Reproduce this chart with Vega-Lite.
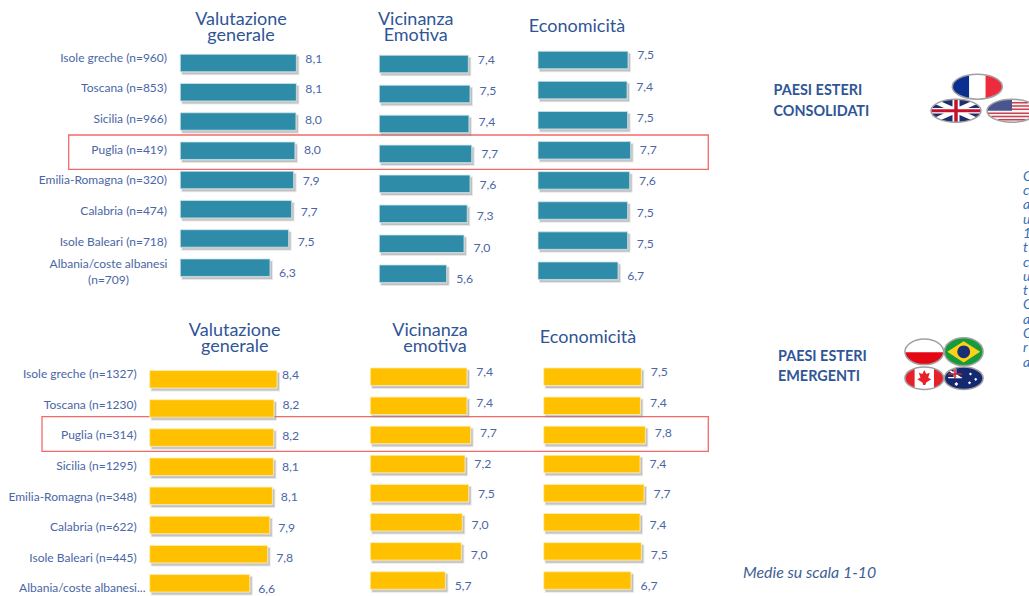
{
"$schema":"https://vega.github.io/schema/vega-lite/v6.json",
"width":1029,"height":596,"padding":0,
"autosize":{"type":"fit","contains":"padding"},
"background":"white",
"config":{"view":{"stroke":null},"text":{"font":"Lato"}},
"resolve":{"scale":{"x":"independent","y":"independent","shape":"independent","fill":"independent"}},
"datasets":{
"scores":[
{"p":"c1","rank":1,"score":8.1,"label":"8,1"},{"p":"c1","rank":2,"score":8.1,"label":"8,1"},{"p":"c1","rank":3,"score":8.07,"label":"8,0"},{"p":"c1","rank":4,"score":8.0,"label":"8,0"},{"p":"c1","rank":5,"score":7.91,"label":"7,9"},{"p":"c1","rank":6,"score":7.77,"label":"7,7"},{"p":"c1","rank":7,"score":7.56,"label":"7,5"},{"p":"c1","rank":8,"score":6.26,"label":"6,3"},
{"p":"c2","rank":1,"score":7.4,"label":"7,4"},{"p":"c2","rank":2,"score":7.54,"label":"7,5"},{"p":"c2","rank":3,"score":7.45,"label":"7,4"},{"p":"c2","rank":4,"score":7.68,"label":"7,7"},{"p":"c2","rank":5,"score":7.54,"label":"7,6"},{"p":"c2","rank":6,"score":7.31,"label":"7,3"},{"p":"c2","rank":7,"score":7.04,"label":"7,0"},{"p":"c2","rank":8,"score":5.6,"label":"5,6"},
{"p":"c3","rank":1,"score":7.5,"label":"7,5"},{"p":"c3","rank":2,"score":7.42,"label":"7,4"},{"p":"c3","rank":3,"score":7.47,"label":"7,5"},{"p":"c3","rank":4,"score":7.72,"label":"7,7"},{"p":"c3","rank":5,"score":7.64,"label":"7,6"},{"p":"c3","rank":6,"score":7.47,"label":"7,5"},{"p":"c3","rank":7,"score":7.47,"label":"7,5"},{"p":"c3","rank":8,"score":6.67,"label":"6,7"},
{"p":"e1","rank":1,"score":8.4,"label":"8,4"},{"p":"e1","rank":2,"score":8.2,"label":"8,2"},{"p":"e1","rank":3,"score":8.18,"label":"8,2"},{"p":"e1","rank":4,"score":8.16,"label":"8,1"},{"p":"e1","rank":5,"score":8.09,"label":"8,1"},{"p":"e1","rank":6,"score":7.92,"label":"7,9"},{"p":"e1","rank":7,"score":7.78,"label":"7,8"},{"p":"e1","rank":8,"score":6.6,"label":"6,6"},
{"p":"e2","rank":1,"score":7.38,"label":"7,4"},{"p":"e2","rank":2,"score":7.38,"label":"7,4"},{"p":"e2","rank":3,"score":7.66,"label":"7,7"},{"p":"e2","rank":4,"score":7.23,"label":"7,2"},{"p":"e2","rank":5,"score":7.51,"label":"7,5"},{"p":"e2","rank":6,"score":7.02,"label":"7,0"},{"p":"e2","rank":7,"score":6.95,"label":"7,0"},{"p":"e2","rank":8,"score":5.73,"label":"5,7"},
{"p":"e3","rank":1,"score":7.51,"label":"7,5"},{"p":"e3","rank":2,"score":7.44,"label":"7,4"},{"p":"e3","rank":3,"score":7.82,"label":"7,8"},{"p":"e3","rank":4,"score":7.41,"label":"7,4"},{"p":"e3","rank":5,"score":7.72,"label":"7,7"},{"p":"e3","rank":6,"score":7.41,"label":"7,4"},{"p":"e3","rank":7,"score":7.51,"label":"7,5"},{"p":"e3","rank":8,"score":6.72,"label":"6,7"}
],
"places":[
{"b":"c","rank":1,"label":"Isole greche (n=960)"},{"b":"c","rank":2,"label":"Toscana (n=853)"},{"b":"c","rank":3,"label":"Sicilia (n=966)"},{"b":"c","rank":4,"label":"Puglia (n=419)"},{"b":"c","rank":5,"label":"Emilia-Romagna (n=320)"},{"b":"c","rank":6,"label":"Calabria (n=474)"},{"b":"c","rank":7,"label":"Isole Baleari (n=718)"},
{"b":"e","rank":1,"label":"Isole greche (n=1327)"},{"b":"e","rank":2,"label":"Toscana (n=1230)"},{"b":"e","rank":3,"label":"Puglia (n=314)"},{"b":"e","rank":4,"label":"Sicilia (n=1295)"},{"b":"e","rank":5,"label":"Emilia-Romagna (n=348)"},{"b":"e","rank":6,"label":"Calabria (n=622)"},{"b":"e","rank":7,"label":"Isole Baleari (n=445)"},{"b":"e8","rank":8,"label":"Albania/coste albanesi..."}
],
"notes":[
{"note":"alb","line":1,"text":"Albania/coste albanesi"},{"note":"alb","line":2,"text":"(n=709)"},
{"note":"h1","line":1,"text":"Valutazione"},{"note":"h1","line":2,"text":"generale"},
{"note":"h2","line":1,"text":"Vicinanza"},{"note":"h2","line":2,"text":"Emotiva"},
{"note":"h3","line":1,"text":"Economicità"},
{"note":"h4","line":1,"text":"Valutazione"},{"note":"h4","line":2,"text":"generale"},
{"note":"h5","line":1,"text":"Vicinanza"},
{"note":"h5b","line":1,"text":"emotiva"},
{"note":"h6","line":1,"text":"Economicità"},
{"note":"sc","line":1,"text":"PAESI ESTERI"},{"note":"sc","line":2,"text":"CONSOLIDATI"},
{"note":"se","line":1,"text":"PAESI ESTERI"},{"note":"se","line":2,"text":"EMERGENTI"},
{"note":"m","line":1,"text":"Medie su scala 1-10"},
{"note":"cut","line":1,"text":"C"},{"note":"cut","line":2,"text":"c"},{"note":"cut","line":3,"text":"a"},{"note":"cut","line":4,"text":"u"},{"note":"cut","line":5,"text":"1"},{"note":"cut","line":6,"text":"t"},{"note":"cut","line":7,"text":"c"},{"note":"cut","line":8,"text":"u"},{"note":"cut","line":9,"text":"t"},{"note":"cut","line":10,"text":"C"},{"note":"cut","line":11,"text":"a"},{"note":"cut","line":12,"text":"C"},{"note":"cut","line":13,"text":"r"},{"note":"cut","line":14,"text":"a"}
],
"boxes":[{"b":"c","x0":0,"x1":1,"y0":0,"y1":1},{"b":"e","x0":0,"x1":1,"y0":0,"y1":1}],
"flags":[
{"g":"fr","part":"frBase","col":0,"row":0},{"g":"fr","part":"frBlue","col":0,"row":0},{"g":"fr","part":"frRed","col":0,"row":0},{"g":"fr","part":"frRing","col":0,"row":0},
{"g":"uk","part":"ukBase","col":0,"row":0},{"g":"uk","part":"ukWhite","col":0,"row":0},{"g":"uk","part":"ukRed","col":0,"row":0},{"g":"uk","part":"ukRing","col":0,"row":0},
{"g":"uk","part":"usBase","col":1,"row":0},{"g":"uk","part":"usCanton","col":1,"row":0},{"g":"uk","part":"usRed","col":1,"row":0},{"g":"uk","part":"usRing","col":1,"row":0},
{"g":"em","part":"plBase","col":0,"row":0},{"g":"em","part":"plRed","col":0,"row":0},{"g":"em","part":"plRing","col":0,"row":0},
{"g":"em","part":"brBase","col":1,"row":0},{"g":"em","part":"brDiamond","col":1,"row":0},{"g":"em","part":"brGlobe","col":1,"row":0},{"g":"em","part":"brRing","col":1,"row":0},
{"g":"em","part":"caBase","col":0,"row":1},{"g":"em","part":"caRed","col":0,"row":1},{"g":"em","part":"caRing","col":0,"row":1},
{"g":"em","part":"auBase","col":1,"row":1},{"g":"em","part":"auWhite","col":1,"row":1},{"g":"em","part":"auRed","col":1,"row":1},{"g":"em","part":"auRing","col":1,"row":1}
]
},
"layer":[
{"data":{"name":"boxes"},"transform":[{"filter":"datum.b=='c'"}],"mark":{"type":"rect","fill":"transparent","stroke":"#f4686a","strokeWidth":1.3},"encoding":{"x":{"field":"x0","type":"quantitative","axis":null,"scale":{"domain":[0,1],"range":[68.7,708.3]}},"x2":{"field":"x1"},"y":{"field":"y0","type":"quantitative","axis":null,"scale":{"domain":[0,1],"range":[135,169.3]}},"y2":{"field":"y1"}}},
{"data":{"name":"boxes"},"transform":[{"filter":"datum.b=='e'"}],"mark":{"type":"rect","fill":"transparent","stroke":"#f4686a","strokeWidth":1.3},"encoding":{"x":{"field":"x0","type":"quantitative","axis":null,"scale":{"domain":[0,1],"range":[42,708.3]}},"x2":{"field":"x1"},"y":{"field":"y0","type":"quantitative","axis":null,"scale":{"domain":[0,1],"range":[416.7,451.3]}},"y2":{"field":"y1"}}},

{"data":{"name":"scores"},"transform":[{"filter":"datum.p=='c1'"}],"mark":{"type":"bar","orient":"horizontal","size":17.5,"fill":"#8c8c8c","fillOpacity":0.45,"stroke":"#8c8c8c","strokeOpacity":0.2,"strokeWidth":2,"xOffset":2,"yOffset":2.5},"encoding":{"x":{"field":"score","type":"quantitative","axis":null,"scale":{"domain":[0,10],"range":[180.3,323.6]}},"y":{"field":"rank","type":"quantitative","axis":null,"scale":{"domain":[1,8],"range":[58,272.7]}}}},
{"data":{"name":"scores"},"transform":[{"filter":"datum.p=='c1'"}],"mark":{"type":"bar","orient":"horizontal","size":17.5,"fill":"#2e8ca8","stroke":"#cfe4ea","strokeWidth":0.8},"encoding":{"x":{"field":"score","type":"quantitative","axis":null,"scale":{"domain":[0,10],"range":[180.3,323.6]}},"y":{"field":"rank","type":"quantitative","axis":null,"scale":{"domain":[1,8],"range":[58,272.7]}}}},
{"data":{"name":"scores"},"transform":[{"filter":"datum.p=='c1'"}],"mark":{"type":"text","align":"left","dx":9,"fontSize":12.2,"fill":"#4a66a6"},"encoding":{"text":{"field":"label"},"x":{"field":"score","type":"quantitative","axis":null,"scale":{"domain":[0,10],"range":[180.3,323.6]}},"y":{"field":"rank","type":"quantitative","axis":null,"scale":{"domain":[1,8],"range":[58.5,273]}}}},

{"data":{"name":"scores"},"transform":[{"filter":"datum.p=='c2'"}],"mark":{"type":"bar","orient":"horizontal","size":17.5,"fill":"#8c8c8c","fillOpacity":0.45,"stroke":"#8c8c8c","strokeOpacity":0.2,"strokeWidth":2,"xOffset":2,"yOffset":2.5},"encoding":{"x":{"field":"score","type":"quantitative","axis":null,"scale":{"domain":[0,10],"range":[379.3,499.6]}},"y":{"field":"rank","type":"quantitative","axis":null,"scale":{"domain":[1,8],"range":[59,278.7]}}}},
{"data":{"name":"scores"},"transform":[{"filter":"datum.p=='c2'"}],"mark":{"type":"bar","orient":"horizontal","size":17.5,"fill":"#2e8ca8","stroke":"#cfe4ea","strokeWidth":0.8},"encoding":{"x":{"field":"score","type":"quantitative","axis":null,"scale":{"domain":[0,10],"range":[379.3,499.6]}},"y":{"field":"rank","type":"quantitative","axis":null,"scale":{"domain":[1,8],"range":[59,278.7]}}}},
{"data":{"name":"scores"},"transform":[{"filter":"datum.p=='c2'"}],"mark":{"type":"text","align":"left","dx":9.5,"fontSize":12.2,"fill":"#4a66a6"},"encoding":{"text":{"field":"label"},"x":{"field":"score","type":"quantitative","axis":null,"scale":{"domain":[0,10],"range":[379.3,499.6]}},"y":{"field":"rank","type":"quantitative","axis":null,"scale":{"domain":[1,8],"range":[59.5,279]}}}},

{"data":{"name":"scores"},"transform":[{"filter":"datum.p=='c3'"}],"mark":{"type":"bar","orient":"horizontal","size":17.5,"fill":"#8c8c8c","fillOpacity":0.45,"stroke":"#8c8c8c","strokeOpacity":0.2,"strokeWidth":2,"xOffset":2,"yOffset":2.5},"encoding":{"x":{"field":"score","type":"quantitative","axis":null,"scale":{"domain":[0,10],"range":[538,658]}},"y":{"field":"rank","type":"quantitative","axis":null,"scale":{"domain":[1,8],"range":[55,275.7]}}}},
{"data":{"name":"scores"},"transform":[{"filter":"datum.p=='c3'"}],"mark":{"type":"bar","orient":"horizontal","size":17.5,"fill":"#2e8ca8","stroke":"#cfe4ea","strokeWidth":0.8},"encoding":{"x":{"field":"score","type":"quantitative","axis":null,"scale":{"domain":[0,10],"range":[538,658]}},"y":{"field":"rank","type":"quantitative","axis":null,"scale":{"domain":[1,8],"range":[55,275.7]}}}},
{"data":{"name":"scores"},"transform":[{"filter":"datum.p=='c3'"}],"mark":{"type":"text","align":"left","dx":9.2,"fontSize":12.2,"fill":"#4a66a6"},"encoding":{"text":{"field":"label"},"x":{"field":"score","type":"quantitative","axis":null,"scale":{"domain":[0,10],"range":[538,658]}},"y":{"field":"rank","type":"quantitative","axis":null,"scale":{"domain":[1,8],"range":[55,275.7]}}}},

{"data":{"name":"scores"},"transform":[{"filter":"datum.p=='e1'"}],"mark":{"type":"bar","orient":"horizontal","size":17.5,"fill":"#8c8c8c","fillOpacity":0.45,"stroke":"#8c8c8c","strokeOpacity":0.2,"strokeWidth":2,"xOffset":2,"yOffset":2.5},"encoding":{"x":{"field":"score","type":"quantitative","axis":null,"scale":{"domain":[0,10],"range":[149.7,301.3]}},"y":{"field":"rank","type":"quantitative","axis":null,"scale":{"domain":[1,8],"range":[374.3,588.3]}}}},
{"data":{"name":"scores"},"transform":[{"filter":"datum.p=='e1'"}],"mark":{"type":"bar","orient":"horizontal","size":17.5,"fill":"#ffc000","stroke":"#ffedb8","strokeWidth":0.8},"encoding":{"x":{"field":"score","type":"quantitative","axis":null,"scale":{"domain":[0,10],"range":[149.7,301.3]}},"y":{"field":"rank","type":"quantitative","axis":null,"scale":{"domain":[1,8],"range":[374.3,588.3]}}}},
{"data":{"name":"scores"},"transform":[{"filter":"datum.p=='e1'&&datum.rank>1"}],"mark":{"type":"text","align":"left","dx":8.5,"fontSize":12.2,"fill":"#4a66a6"},"encoding":{"text":{"field":"label"},"x":{"field":"score","type":"quantitative","axis":null,"scale":{"domain":[0,10],"range":[149.7,301.3]}},"y":{"field":"rank","type":"quantitative","axis":null,"scale":{"domain":[1,8],"range":[374.8,588.8]}}}},
{"data":{"name":"scores"},"transform":[{"filter":"datum.p=='e1'&&datum.rank==1"}],"mark":{"type":"text","align":"left","dx":5,"fontSize":12.2,"fill":"#4a66a6"},"encoding":{"text":{"field":"label"},"x":{"field":"score","type":"quantitative","axis":null,"scale":{"domain":[0,10],"range":[149.7,301.3]}},"y":{"field":"rank","type":"quantitative","axis":null,"scale":{"domain":[1,8],"range":[374.8,588.8]}}}},

{"data":{"name":"scores"},"transform":[{"filter":"datum.p=='e2'"}],"mark":{"type":"bar","orient":"horizontal","size":17.5,"fill":"#8c8c8c","fillOpacity":0.45,"stroke":"#8c8c8c","strokeOpacity":0.2,"strokeWidth":2,"xOffset":2,"yOffset":2.5},"encoding":{"x":{"field":"score","type":"quantitative","axis":null,"scale":{"domain":[0,10],"range":[370.3,501.3]}},"y":{"field":"rank","type":"quantitative","axis":null,"scale":{"domain":[1,8],"range":[371.7,585.5]}}}},
{"data":{"name":"scores"},"transform":[{"filter":"datum.p=='e2'"}],"mark":{"type":"bar","orient":"horizontal","size":17.5,"fill":"#ffc000","stroke":"#ffedb8","strokeWidth":0.8},"encoding":{"x":{"field":"score","type":"quantitative","axis":null,"scale":{"domain":[0,10],"range":[370.3,501.3]}},"y":{"field":"rank","type":"quantitative","axis":null,"scale":{"domain":[1,8],"range":[371.7,585.5]}}}},
{"data":{"name":"scores"},"transform":[{"filter":"datum.p=='e2'"}],"mark":{"type":"text","align":"left","dx":9.3,"fontSize":12.2,"fill":"#4a66a6"},"encoding":{"text":{"field":"label"},"x":{"field":"score","type":"quantitative","axis":null,"scale":{"domain":[0,10],"range":[370.3,501.3]}},"y":{"field":"rank","type":"quantitative","axis":null,"scale":{"domain":[1,8],"range":[372.2,586]}}}},

{"data":{"name":"scores"},"transform":[{"filter":"datum.p=='e3'"}],"mark":{"type":"bar","orient":"horizontal","size":17.5,"fill":"#8c8c8c","fillOpacity":0.45,"stroke":"#8c8c8c","strokeOpacity":0.2,"strokeWidth":2,"xOffset":2,"yOffset":2.5},"encoding":{"x":{"field":"score","type":"quantitative","axis":null,"scale":{"domain":[0,10],"range":[543.7,673.7]}},"y":{"field":"rank","type":"quantitative","axis":null,"scale":{"domain":[1,8],"range":[371.7,585.5]}}}},
{"data":{"name":"scores"},"transform":[{"filter":"datum.p=='e3'"}],"mark":{"type":"bar","orient":"horizontal","size":17.5,"fill":"#ffc000","stroke":"#ffedb8","strokeWidth":0.8},"encoding":{"x":{"field":"score","type":"quantitative","axis":null,"scale":{"domain":[0,10],"range":[543.7,673.7]}},"y":{"field":"rank","type":"quantitative","axis":null,"scale":{"domain":[1,8],"range":[371.7,585.5]}}}},
{"data":{"name":"scores"},"transform":[{"filter":"datum.p=='e3'"}],"mark":{"type":"text","align":"left","dx":9.5,"fontSize":12.2,"fill":"#4a66a6"},"encoding":{"text":{"field":"label"},"x":{"field":"score","type":"quantitative","axis":null,"scale":{"domain":[0,10],"range":[543.7,673.7]}},"y":{"field":"rank","type":"quantitative","axis":null,"scale":{"domain":[1,8],"range":[372.2,586]}}}},

{"data":{"name":"places"},"transform":[{"filter":"datum.b=='c'"}],"mark":{"type":"text","align":"right","fontSize":12,"fill":"#4a66a6"},"encoding":{"text":{"field":"label"},"x":{"datum":0,"type":"quantitative","axis":null,"scale":{"domain":[0,1],"range":[167,168]}},"y":{"field":"rank","type":"quantitative","axis":null,"scale":{"domain":[1,8],"range":[57.7,272.4]}}}},
{"data":{"name":"places"},"transform":[{"filter":"datum.b=='e'"}],"mark":{"type":"text","align":"right","fontSize":12,"fill":"#4a66a6"},"encoding":{"text":{"field":"label"},"x":{"datum":0,"type":"quantitative","axis":null,"scale":{"domain":[0,1],"range":[136.7,137.7]}},"y":{"field":"rank","type":"quantitative","axis":null,"scale":{"domain":[1,8],"range":[374.3,588.3]}}}},
{"data":{"name":"places"},"transform":[{"filter":"datum.b=='e8'"}],"mark":{"type":"text","align":"right","fontSize":12,"fill":"#4a66a6"},"encoding":{"text":{"field":"label"},"x":{"datum":0,"type":"quantitative","axis":null,"scale":{"domain":[0,1],"range":[145.5,146.5]}},"y":{"field":"rank","type":"quantitative","axis":null,"scale":{"domain":[1,8],"range":[374.3,588.3]}}}},
{"data":{"name":"notes"},"transform":[{"filter":"datum.note=='alb'"}],"mark":{"type":"text","align":"center","fontSize":12,"fill":"#4a66a6"},"encoding":{"text":{"field":"text"},"x":{"datum":0,"type":"quantitative","axis":null,"scale":{"domain":[0,1],"range":[108.5,109.5]}},"y":{"field":"line","type":"quantitative","axis":null,"scale":{"domain":[1,2],"range":[264,280]}}}},

{"data":{"name":"notes"},"transform":[{"filter":"datum.note=='h1'"}],"mark":{"type":"text","align":"center","fontSize":18,"fill":"#2f5597"},"encoding":{"text":{"field":"text"},"x":{"datum":0,"type":"quantitative","axis":null,"scale":{"domain":[0,1],"range":[241,242]}},"y":{"field":"line","type":"quantitative","axis":null,"scale":{"domain":[1,2],"range":[20,36]}}}},
{"data":{"name":"notes"},"transform":[{"filter":"datum.note=='h2'"}],"mark":{"type":"text","align":"center","fontSize":18,"fill":"#2f5597"},"encoding":{"text":{"field":"text"},"x":{"datum":0,"type":"quantitative","axis":null,"scale":{"domain":[0,1],"range":[415.7,416.7]}},"y":{"field":"line","type":"quantitative","axis":null,"scale":{"domain":[1,2],"range":[20,36]}}}},
{"data":{"name":"notes"},"transform":[{"filter":"datum.note=='h3'"}],"mark":{"type":"text","align":"center","fontSize":18,"fill":"#2f5597"},"encoding":{"text":{"field":"text"},"x":{"datum":0,"type":"quantitative","axis":null,"scale":{"domain":[0,1],"range":[577,578]}},"y":{"field":"line","type":"quantitative","axis":null,"scale":{"domain":[1,2],"range":[27,43]}}}},
{"data":{"name":"notes"},"transform":[{"filter":"datum.note=='h4'"}],"mark":{"type":"text","align":"center","fontSize":18,"fill":"#2f5597"},"encoding":{"text":{"field":"text"},"x":{"datum":0,"type":"quantitative","axis":null,"scale":{"domain":[0,1],"range":[234.7,235.7]}},"y":{"field":"line","type":"quantitative","axis":null,"scale":{"domain":[1,2],"range":[331,346.5]}}}},
{"data":{"name":"notes"},"transform":[{"filter":"datum.note=='h5'"}],"mark":{"type":"text","align":"center","fontSize":18,"fill":"#2f5597"},"encoding":{"text":{"field":"text"},"x":{"datum":0,"type":"quantitative","axis":null,"scale":{"domain":[0,1],"range":[430,431]}},"y":{"field":"line","type":"quantitative","axis":null,"scale":{"domain":[1,2],"range":[331,347]}}}},
{"data":{"name":"notes"},"transform":[{"filter":"datum.note=='h5b'"}],"mark":{"type":"text","align":"center","fontSize":18,"fill":"#2f5597"},"encoding":{"text":{"field":"text"},"x":{"datum":0,"type":"quantitative","axis":null,"scale":{"domain":[0,1],"range":[435,436]}},"y":{"field":"line","type":"quantitative","axis":null,"scale":{"domain":[0,1],"range":[331,347]}}}},
{"data":{"name":"notes"},"transform":[{"filter":"datum.note=='h6'"}],"mark":{"type":"text","align":"center","fontSize":18,"fill":"#2f5597"},"encoding":{"text":{"field":"text"},"x":{"datum":0,"type":"quantitative","axis":null,"scale":{"domain":[0,1],"range":[588,589]}},"y":{"field":"line","type":"quantitative","axis":null,"scale":{"domain":[1,2],"range":[338,354]}}}},
{"data":{"name":"notes"},"transform":[{"filter":"datum.note=='sc'"}],"mark":{"type":"text","align":"left","fontSize":14.4,"fontWeight":"bold","fill":"#2f5597"},"encoding":{"text":{"field":"text"},"x":{"datum":0,"type":"quantitative","axis":null,"scale":{"domain":[0,1],"range":[773.5,774.5]}},"y":{"field":"line","type":"quantitative","axis":null,"scale":{"domain":[1,2],"range":[91,112]}}}},
{"data":{"name":"notes"},"transform":[{"filter":"datum.note=='se'"}],"mark":{"type":"text","align":"left","fontSize":14.4,"fontWeight":"bold","fill":"#2f5597"},"encoding":{"text":{"field":"text"},"x":{"datum":0,"type":"quantitative","axis":null,"scale":{"domain":[0,1],"range":[778,779]}},"y":{"field":"line","type":"quantitative","axis":null,"scale":{"domain":[1,2],"range":[356.5,376.5]}}}},
{"data":{"name":"notes"},"transform":[{"filter":"datum.note=='m'"}],"mark":{"type":"text","align":"left","fontSize":15.9,"fontStyle":"italic","fill":"#3f5f93"},"encoding":{"text":{"field":"text"},"x":{"datum":0,"type":"quantitative","axis":null,"scale":{"domain":[0,1],"range":[743,744]}},"y":{"field":"line","type":"quantitative","axis":null,"scale":{"domain":[1,2],"range":[573,590]}}}},
{"data":{"name":"notes"},"transform":[{"filter":"datum.note=='cut'"}],"mark":{"type":"text","align":"left","fontSize":14,"fontStyle":"italic","fill":"#3a6fb0"},"encoding":{"text":{"field":"text"},"x":{"datum":0,"type":"quantitative","axis":null,"scale":{"domain":[0,1],"range":[1023,1024]}},"y":{"field":"line","type":"quantitative","axis":null,"scale":{"domain":[1,14],"range":[176.7,362.7]}}}},

{"data":{"name":"flags"},"transform":[{"filter":"datum.g=='fr'"}],"mark":{"type":"point","filled":true,"size":2500,"opacity":1,"strokeWidth":1.5},
"encoding":{"x":{"field":"col","type":"quantitative","axis":null,"scale":{"domain":[0,1],"range":[977.3,978.3]}},"y":{"field":"row","type":"quantitative","axis":null,"scale":{"domain":[0,1],"range":[86.7,87.7]}},
"stroke":{"condition":{"test":"datum.part=='frRing'","value":"#a0a0a0"},"value":"transparent"},
"fill":{"field":"part","type":"nominal","legend":null,"scale":{"domain":["frBase","frBlue","frRed","frRing"],"range":["#ffffff","#0b2f8f","#ee2b3c","transparent"]}},
"shape":{"field":"part","type":"nominal","legend":null,"scale":{"domain":["frBase","frBlue","frRed","frRing"],"range":[
"M-1,0 A1,0.5 0 1 1 1,0 A1,0.5 0 1 1 -1,0 Z",
"M-0.33,-0.472 A1,0.5 0 0 0 -0.33,0.472 Z",
"M0.33,-0.472 A1,0.5 0 0 1 0.33,0.472 Z",
"M-1,0 A1,0.5 0 1 1 1,0 A1,0.5 0 1 1 -1,0 Z"]}}}},

{"data":{"name":"flags"},"transform":[{"filter":"datum.g=='uk'"}],"mark":{"type":"point","filled":true,"size":2500,"opacity":1,"strokeWidth":1.5},
"encoding":{"x":{"field":"col","type":"quantitative","axis":null,"scale":{"domain":[0,1],"range":[956,1012]}},"y":{"field":"row","type":"quantitative","axis":null,"scale":{"domain":[0,1],"range":[110.7,111.7]}},
"stroke":{"condition":{"test":"datum.part=='ukRing'||datum.part=='usRing'","value":"#a0a0a0"},"value":"transparent"},
"fill":{"field":"part","type":"nominal","legend":null,"scale":{"domain":["ukBase","ukWhite","ukRed","ukRing","usBase","usCanton","usRed","usRing"],"range":["#1f2f6e","#ffffff","#c8102e","transparent","#f6f6f6","#4a5590","#cc4150","transparent"]}},
"shape":{"field":"part","type":"nominal","legend":null,"scale":{"domain":["ukBase","ukWhite","ukRed","ukRing","usBase","usCanton","usRed","usRing"],"range":[
"M-1,0 A1,0.46 0 1 1 1,0 A1,0.46 0 1 1 -1,0 Z",
"M-0.96,-0.11 L0.96,-0.11 L0.96,0.11 L-0.96,0.11 Z M-0.14,-0.45 L0.14,-0.45 L0.14,0.45 L-0.14,0.45 Z M-0.82,-0.26 L-0.6,-0.37 L0.82,0.26 L0.6,0.37 Z M0.6,-0.37 L0.82,-0.26 L-0.6,0.37 L-0.82,0.26 Z",
"M-0.97,-0.06 L0.97,-0.06 L0.97,0.06 L-0.97,0.06 Z M-0.07,-0.45 L0.07,-0.45 L0.07,0.45 L-0.07,0.45 Z",
"M-1,0 A1,0.46 0 1 1 1,0 A1,0.46 0 1 1 -1,0 Z",
"M-1,0 A1,0.46 0 1 1 1,0 A1,0.46 0 1 1 -1,0 Z",
"M0,-0.46 A1,0.46 0 0 0 -1,0 L0,0 Z",
"M-0.97,0.07 L0.97,0.07 L0.97,0.13 L-0.97,0.13 Z M-0.83,0.2 L0.83,0.2 L0.83,0.26 L-0.83,0.26 Z M-0.55,0.33 L0.55,0.33 L0.55,0.39 L-0.55,0.39 Z M0,-0.35 L0.65,-0.35 L0.65,-0.29 L0,-0.29 Z M0,-0.22 L0.88,-0.22 L0.88,-0.16 L0,-0.16 Z M0,-0.09 L0.98,-0.09 L0.98,-0.03 L0,-0.03 Z",
"M-1,0 A1,0.46 0 1 1 1,0 A1,0.46 0 1 1 -1,0 Z"]}}}},

{"data":{"name":"flags"},"transform":[{"filter":"datum.g=='em'"}],"mark":{"type":"point","filled":true,"size":1500,"opacity":1,"strokeWidth":1.5},
"encoding":{"x":{"field":"col","type":"quantitative","axis":null,"scale":{"domain":[0,1],"range":[924.3,963.7]}},"y":{"field":"row","type":"quantitative","axis":null,"scale":{"domain":[0,1],"range":[351.8,378.2]}},
"stroke":{"condition":{"test":"indexof(datum.part,'Ring')>=0","value":"#a0a0a0"},"value":"transparent"},
"fill":{"field":"part","type":"nominal","legend":null,"scale":{"domain":["plBase","plRed","plRing","brBase","brDiamond","brGlobe","brRing","caBase","caRed","caRing","auBase","auWhite","auRed","auRing"],"range":["#ffffff","#e30613","transparent","#169b3c","#fcd116","#1c2f75","transparent","#ffffff","#e8202a","transparent","#14296f","#ffffff","#d0202e","transparent"]}},
"shape":{"field":"part","type":"nominal","legend":null,"scale":{"domain":["plBase","plRed","plRing","brBase","brDiamond","brGlobe","brRing","caBase","caRed","caRing","auBase","auWhite","auRed","auRing"],"range":[
"M-1,0 A1,0.66 0 1 1 1,0 A1,0.66 0 1 1 -1,0 Z",
"M-1,0.02 A1,0.66 0 0 0 1,0.02 Z",
"M-1,0 A1,0.66 0 1 1 1,0 A1,0.66 0 1 1 -1,0 Z",
"M-1,0 A1,0.72 0 1 1 1,0 A1,0.72 0 1 1 -1,0 Z",
"M-0.85,0 L0,-0.55 L0.85,0 L0,0.55 Z",
"M-0.33,0 A0.33,0.33 0 1 1 0.33,0 A0.33,0.33 0 1 1 -0.33,0 Z",
"M-1,0 A1,0.72 0 1 1 1,0 A1,0.72 0 1 1 -1,0 Z",
"M-1,0 A1,0.58 0 1 1 1,0 A1,0.58 0 1 1 -1,0 Z",
"M-0.5,-0.5 A1,0.58 0 0 0 -0.5,0.5 Z M0.5,-0.5 A1,0.58 0 0 1 0.5,0.5 Z M0,-0.42 L0.1,-0.22 L0.28,-0.28 L0.2,-0.02 L0.36,0.06 L0.1,0.22 L0.05,0.35 L-0.05,0.35 L-0.1,0.22 L-0.36,0.06 L-0.2,-0.02 L-0.28,-0.28 L-0.1,-0.22 Z",
"M-1,0 A1,0.58 0 1 1 1,0 A1,0.58 0 1 1 -1,0 Z",
"M-1,0 A1,0.58 0 1 1 1,0 A1,0.58 0 1 1 -1,0 Z",
"M-0.8,-0.06 L-0.1,-0.06 L-0.1,0 L-0.8,0 Z M-0.52,-0.47 L-0.38,-0.47 L-0.38,0 L-0.52,0 Z M-0.75,-0.36 L-0.65,-0.4 L-0.15,-0.06 L-0.25,0 Z M0.35,-0.3 L0.43,-0.22 L0.35,-0.14 L0.27,-0.22 Z M0.62,-0.02 L0.7,0.06 L0.62,0.14 L0.54,0.06 Z M0.3,0.16 L0.38,0.24 L0.3,0.32 L0.22,0.24 Z M-0.38,0.2 L-0.28,0.3 L-0.38,0.4 L-0.48,0.3 Z",
"M-0.8,-0.26 L-0.1,-0.26 L-0.1,-0.18 L-0.8,-0.18 Z M-0.49,-0.47 L-0.41,-0.47 L-0.41,0 L-0.49,0 Z",
"M-1,0 A1,0.58 0 1 1 1,0 A1,0.58 0 1 1 -1,0 Z"]}}}}
]
}
